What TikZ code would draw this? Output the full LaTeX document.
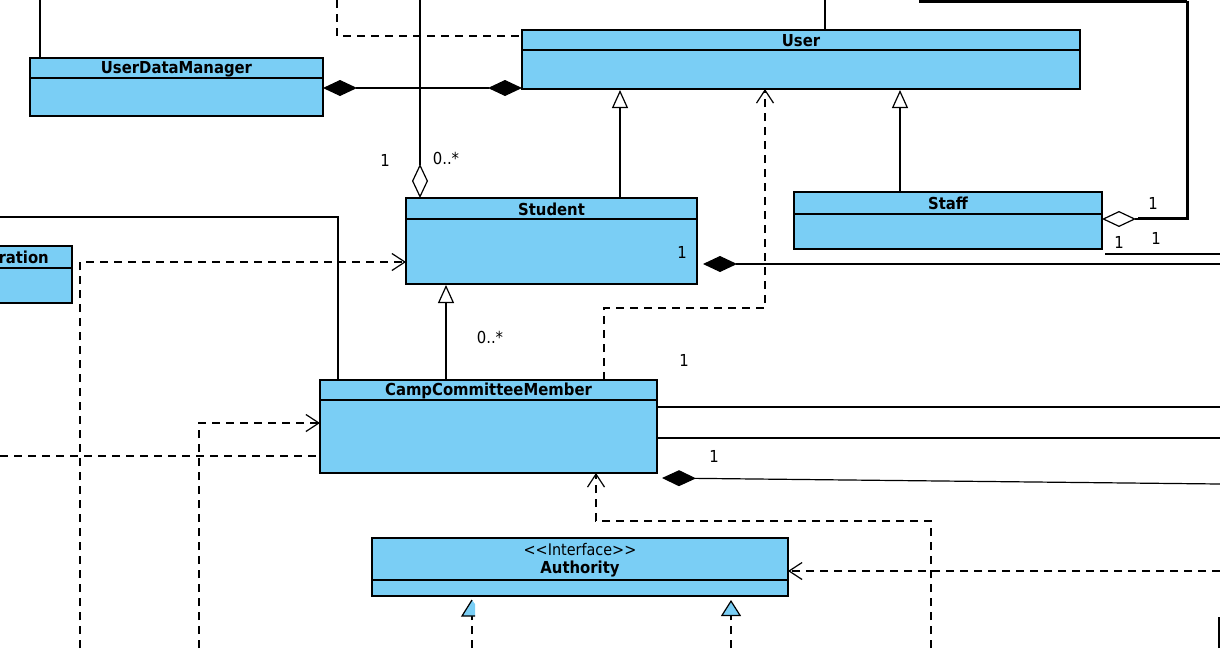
\documentclass[tikz,border=0pt]{standalone}
\usepackage{fontspec}
\setmainfont{DejaVu Sans Condensed}
\usetikzlibrary{arrows.meta}
\definecolor{classfill}{RGB}{122,206,245}
\tikzset{
  cls/.style={draw, fill=classfill, line width=1.2pt, anchor=north west, inner sep=0pt, outer sep=0pt},
  divider/.style={line width=1.1pt},
  ttl/.style={font=\bfseries\fontsize{16.5}{18}\selectfont, inner sep=0pt},
  stereo/.style={font=\fontsize{16}{18}\selectfont, inner sep=0pt},
  mult/.style={font=\fontsize{16.5}{18}\selectfont, inner sep=0pt},
  assoc/.style={line width=1.2pt},
  dashline/.style={line width=1.2pt, dash pattern=on 8pt off 6pt},
  dep/.style={dashline, -{Straight Barb[length=13pt,width=17pt,line width=1.2pt]}},
  gen/.style={line width=1.2pt, -{Triangle[open, fill=white, length=18pt, width=16pt, line width=1.2pt]}, shorten >=1pt},
  real/.style={dashline, -{Triangle[fill=classfill, length=16pt, width=20pt, line width=1.2pt]}, shorten >=4pt},
  comp/.style={line width=1.2pt, {Diamond[length=34pt, width=16pt]}-},
  compboth/.style={line width=1.2pt, {Diamond[length=34pt, width=16pt]}-{Diamond[length=34pt, width=16pt]}},
  aggr/.style={line width=1.2pt, {Diamond[open, fill=white, length=34pt, width=16pt, line width=1.2pt]}-},
}
\begin{document}
\begin{tikzpicture}[x=1pt, y=-1pt]
\useasboundingbox (0,0) rectangle (1220,648);
\clip (0,0) rectangle (1220,648);

% ---------- classes ----------
\node[cls, minimum width=293pt, minimum height=58pt] (udm) at (30,58) {};
\draw[divider] ([yshift=-20pt]udm.north west) -- ([yshift=-20pt]udm.north east);
\node[ttl] at ([yshift=-11pt]udm.north) {UserDataManager};

\node[cls, minimum width=558pt, minimum height=59pt] (user) at (522,30) {};
\draw[divider] ([yshift=-20pt]user.north west) -- ([yshift=-20pt]user.north east);
\node[ttl] at ([yshift=-11pt]user.north) {User};

\node[cls, minimum width=291pt, minimum height=86pt] (student) at (406,198) {};
\draw[divider] ([yshift=-21pt]student.north west) -- ([yshift=-21pt]student.north east);
\node[ttl] at ([yshift=-11pt]student.north) {Student};

\node[cls, minimum width=308pt, minimum height=57pt] (staff) at (794,192) {};
\draw[divider] ([yshift=-22pt]staff.north west) -- ([yshift=-22pt]staff.north east);
\node[ttl] at ([yshift=-11pt]staff.north) {Staff};

\node[cls, minimum width=112pt, minimum height=57pt] (reg) at (-40,246) {};
\draw[divider] ([yshift=-22pt]reg.north west) -- ([yshift=-22pt]reg.north east);
\node[ttl, anchor=east] at ([xshift=-23pt,yshift=-11pt]reg.north east) {ration};

\node[cls, minimum width=337pt, minimum height=93pt] (ccm) at (320,380) {};
\draw[divider] ([yshift=-20pt]ccm.north west) -- ([yshift=-20pt]ccm.north east);
\node[ttl] at ([yshift=-11pt]ccm.north) {CampCommitteeMember};

\node[cls, minimum width=416pt, minimum height=58pt] (auth) at (372,538) {};
\draw[divider] ([yshift=-42pt]auth.north west) -- ([yshift=-42pt]auth.north east);
\node[stereo] at ([yshift=-12pt]auth.north) {<\kern0pt<Interface>\kern0pt>};
\node[ttl] at ([yshift=-31pt]auth.north) {Authority};

% ---------- free ends and bend points ----------
\coordinate (t1) at (40,0);
\coordinate (t2) at (825,0);
\coordinate (t3) at (337,0);
\coordinate (t4) at (420,0);
\coordinate (g1) at (620,0);
\coordinate (g2) at (900,0);
\coordinate (g3) at (446,0);
\coordinate (d1) at (604,308);
\coordinate (d2) at (765,308);
\coordinate (s1) at (1188,219);
\coordinate (s2) at (1188,2);
\coordinate (s3) at (920,2);
\coordinate (s4) at (920,0);
\coordinate (e1) at (1220,254);
\coordinate (e2) at (1220,264);
\coordinate (l1) at (0,217);
\coordinate (l2) at (338,217);
\coordinate (b1) at (80,648);
\coordinate (b2) at (199,648);
\coordinate (l3) at (0,456);
\coordinate (e3) at (1220,407);
\coordinate (e4) at (1220,438);
\coordinate (e5) at (1220,484);
\coordinate (b3) at (931,648);
\coordinate (c1) at (931,521);
\coordinate (c2) at (596,521);
\coordinate (e6) at (1220,571);
\coordinate (r1) at (472,648);
\coordinate (r2) at (731,648);

% ---------- connectors ----------
\draw[assoc] (t1) -- (t1 |- udm.north);
\draw[assoc] (t2) -- (t2 |- user.north);
\draw[dashline] (t3) |- ([yshift=-6pt]user.north west);
\draw[compboth] ([yshift=-30pt]udm.north east) -- ([yshift=-58pt]user.north west);
\draw[aggr] (t4 |- student.north) -- (t4);
\draw[gen] (g1 |- student.north) -- (g1 |- user.south);
\draw[gen] (g2 |- staff.north) -- (g2 |- user.south);
\draw[dep] (d1 |- ccm.north) -- (d1) -- (d2) -- (d2 |- user.south);

% staff aggregation, drawn as a doubled line
\draw[aggr] ([yshift=-27pt]staff.north east) -- (s1) -- (s2) -- (s3) -- (s4);
\draw[assoc] ([xshift=36pt,yshift=-25.5pt]staff.north east) -- ([xshift=-1.5pt]s1 |- 0,217.5) -- ([xshift=-1.5pt]s2 |- 0,0.5) -- (s3 |- 0,0.5);

\draw[assoc] ([xshift=3pt,yshift=-5pt]staff.south east) -- (e1);
\draw[comp] ([xshift=6pt,yshift=-66pt]student.north east) -- (e2);

\draw[assoc] (l1) -- (l2) -- (l2 |- ccm.north);
\draw[dep] (b1) |- ([yshift=-64pt]student.north west);
\draw[gen] (g3 |- ccm.north) -- (g3 |- student.south);
\draw[dep] (b2) |- ([yshift=-43pt]ccm.north west);
\draw[dashline] (l3) -- ([yshift=-76pt]ccm.north west);

\draw[assoc] ([yshift=-27pt]ccm.north east) -- (e3);
\draw[assoc] ([yshift=-58pt]ccm.north east) -- (e4);
\draw[comp] ([xshift=5pt,yshift=-5pt]ccm.south east) -- (e5);

\draw[dep] (b3) -- (c1) -- (c2) -- (c2 |- ccm.south);
\draw[dep] (e6) -- ([yshift=-33pt]auth.north east);

% realizations of Authority
\draw[dashline] (r1) -- (472,616);
\fill[classfill] (462,616) -- (472,600) -- (475,604) -- (475,616) -- cycle;
\draw[line width=1.2pt] (475,616) -- (462,616) -- (472,600);
\draw[real] (r2) -- (r2 |- auth.south);

% edge of a box at the lower right
\draw[line width=1.2pt] (1219,648) -- (1219,618) -- (1221,618);

% ---------- multiplicities ----------
\node[mult] at (385,160) {1};
\node[mult] at (446,158) {0..*};
\node[mult] at (682,252) {1};
\node[mult] at (490,337) {0..*};
\node[mult] at (684,360) {1};
\node[mult] at (714,456) {1};
\node[mult] at (1153,203) {1};
\node[mult] at (1119,242) {1};
\node[mult] at (1156,238) {1};
\end{tikzpicture}
\end{document}
